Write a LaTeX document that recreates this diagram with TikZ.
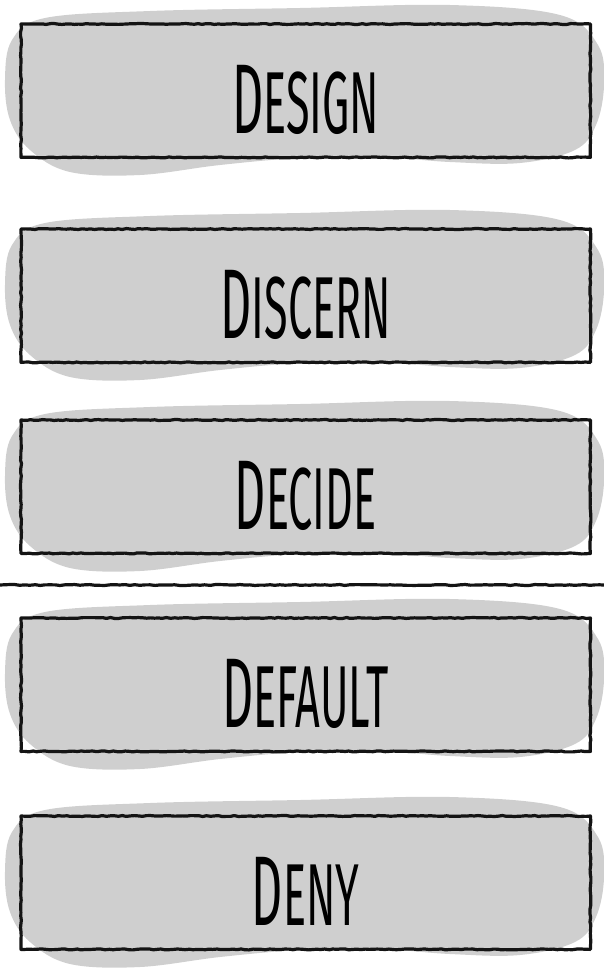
\documentclass[tikz,border=0pt]{standalone}
\usepackage{fontspec}
\usepackage{tikz}
\usetikzlibrary{positioning, backgrounds, decorations.pathmorphing}
\newfontfamily\handfont{Fira Sans}
\definecolor{blobgray}{RGB}{207, 207, 207}
\definecolor{inkblack}{RGB}{20, 20, 20}
\newcommand{\stagelabel}[2]{\scalebox{0.49}[1]{\fontsize{99}{99}\selectfont #1\fontsize{88}{88}\selectfont #2}}

\begin{document}
\begin{tikzpicture}[
  x=1pt, y=-1pt,
  stagebox/.style={rectangle, minimum width=569pt, minimum height=133pt,
    text height=85pt, text depth=0pt, inner sep=0pt, font=\handfont},
  roughframe/.style={draw=inkblack, line width=3.2pt, line join=round,
    decorate, decoration={random steps, segment length=4pt, amplitude=0.5pt},
    postaction={draw=inkblack, line width=1.2pt, decorate, decoration={random steps, segment length=7pt, amplitude=1pt}}},
  blob/.style={fill=blobgray, draw=none},
  divider/.style={draw=inkblack, line width=3.2pt, decorate, decoration={random steps, segment length=5pt, amplitude=0.5pt}}
]
  \useasboundingbox (0,0) rectangle (604,970);

  \node[stagebox, anchor=north west] (design) at (21,24) {\stagelabel{D}{ESIGN}};
  \node[stagebox, anchor=north west] (discern) at (21,229) {\stagelabel{D}{ISCERN}};
  \node[stagebox, anchor=north west] (decide) at (21,420) {\stagelabel{D}{ECIDE}};
  \node[stagebox, anchor=north west] (default) at (21,618) {\stagelabel{D}{EFAULT}};
  \node[stagebox, anchor=north west] (deny) at (21,816) {\stagelabel{D}{ENY}};

  \coordinate (cutleft) at (0,585);
  \coordinate (cutright) at (604,585);
  \draw[divider] (cutleft) -- (cutright);

  % sketchy frames
  \foreach \n in {design, discern, decide, default, deny}
    \draw[roughframe] (\n.north west) rectangle (\n.south east);

  % grey blobs behind each box
  \begin{scope}[on background layer]
    \foreach \n in {design, discern, decide, default, deny} {
      \fill[blob, shift={(\n.north west)}] plot[smooth cycle, tension=0.6] coordinates {
        (24,-6) (129,-13) (279,-16) (429,-19) (539,-9) (577,21) (583,61) (575,101)
        (554,126) (499,139) (429,138) (359,133) (279,134) (199,141) (119,151)
        (49,148) (9,126) (-11,96) (-16,56) (-9,16)};
    }
  \end{scope}

\end{tikzpicture}
\end{document}
